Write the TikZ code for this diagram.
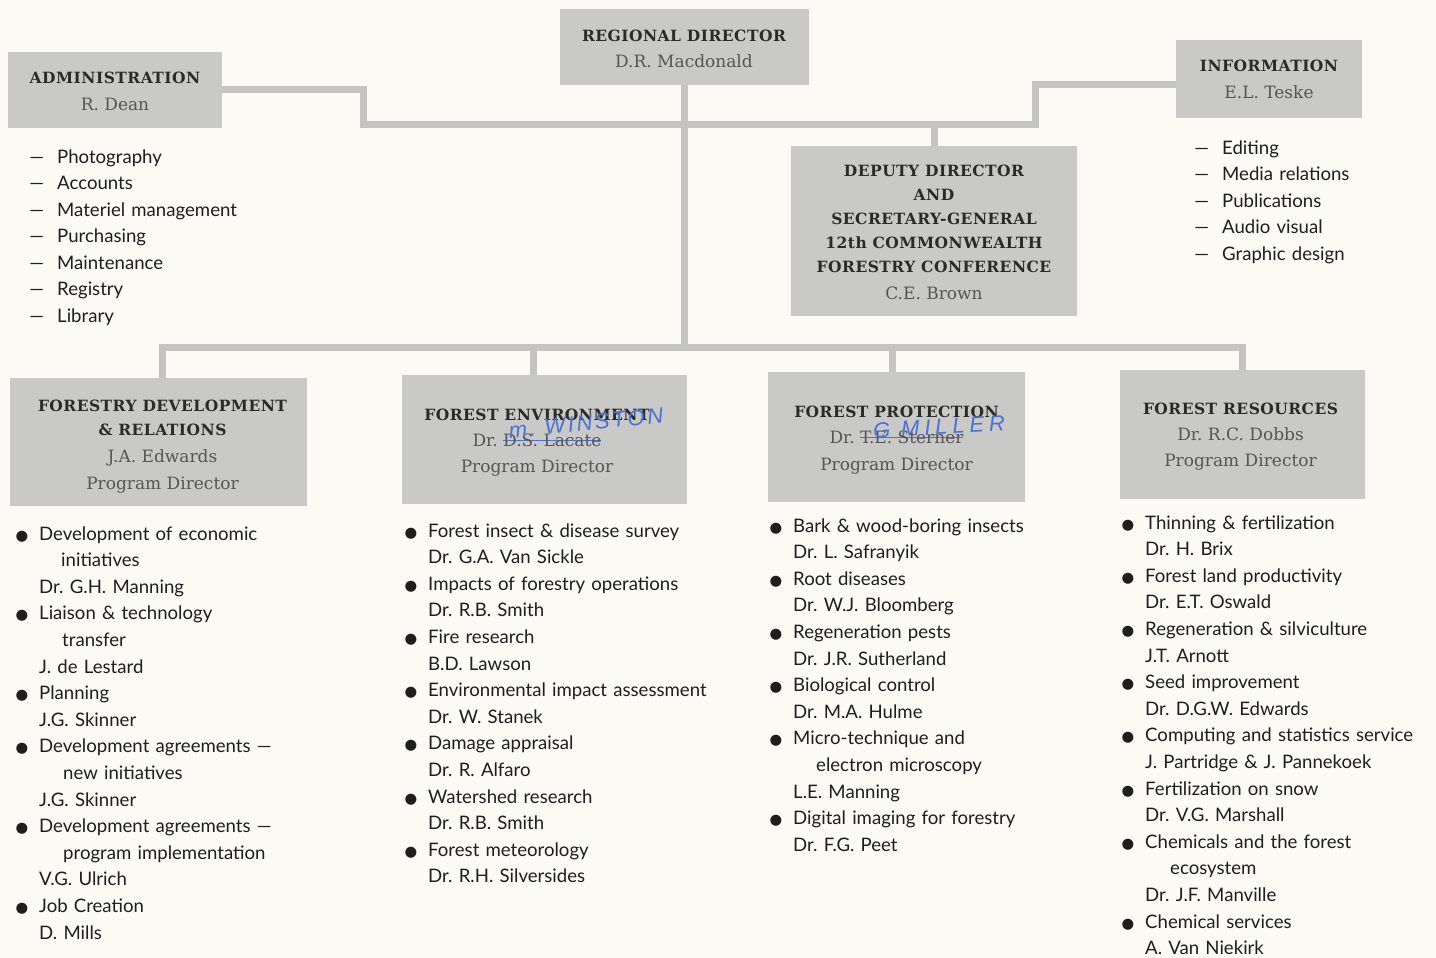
\documentclass[tikz,border=0pt]{standalone}
\usepackage{fontspec}
\setmainfont{DejaVu Serif}
\newfontfamily\hdf[LetterSpace=3]{DejaVu Serif}
\newfontfamily\listf{Lato}
\newfontfamily\symf{DejaVu Sans}
\newfontfamily\handf[LetterSpace=12]{Liberation Sans}
\frenchspacing
\definecolor{bgc}{HTML}{FBFAF5}
\definecolor{boxgray}{HTML}{C9C9C7}
\definecolor{linegray}{HTML}{C4C4C2}
\definecolor{headc}{HTML}{2A2A2A}
\definecolor{namec}{HTML}{555555}
\definecolor{listc}{HTML}{1E1E1E}
\definecolor{penblue}{HTML}{4A72D6}
\newcommand\hd[1]{{\hdf\bfseries\fontsize{15.5}{24}\selectfont\color{headc}#1}}
\newcommand\nm[1]{{\fontsize{17}{24}\selectfont\color{namec}#1}}
\newcommand\bul{\leavevmode\llap{{\symf\fontsize{14.5}{14}\selectfont ●}\hspace{11pt}}}
\newcommand\dsh{\leavevmode\llap{—\hspace{13pt}}}
\newsavebox\sbx
\newcommand\strk[1]{\sbox\sbx{#1}\rlap{\textcolor{penblue}{\rule[0.3em]{\wd\sbx}{1.3pt}}}\usebox\sbx}
\tikzset{
  box/.style={fill=boxgray, inner sep=0pt},
  boxtext/.style={inner sep=0pt, align=center, text=headc, font=\frenchspacing\fontsize{15.5}{24}\selectfont},
  conn/.style={draw=linegray, line width=7pt},
  lst/.style={anchor=base west, inner sep=0pt, text width=440pt, align=left, text=listc, font=\frenchspacing\listf\fontsize{18.6}{26.6}\selectfont},
  hand/.style={text=penblue, font=\handf\itshape\fontsize{22}{22}\selectfont, inner sep=0pt},
}
\begin{document}
\begin{tikzpicture}[x=1pt,y=-1pt]
\useasboundingbox (0,0) rectangle (1436,958);
\fill[bgc] (0,0) rectangle (1436,958);

% boxes
\node[box, minimum width=249pt, minimum height=76pt] (rd) at (684,47) {};
\node[box, minimum width=214pt, minimum height=76pt] (adm) at (115,90) {};
\node[box, minimum width=186pt, minimum height=78pt] (info) at (1269,79) {};
\node[box, minimum width=286pt, minimum height=170pt] (dep) at (934,231) {};
\node[box, minimum width=297pt, minimum height=128pt] (fd) at (158.5,442) {};
\node[box, minimum width=285pt, minimum height=129pt] (fe) at (544.5,439.5) {};
\node[box, minimum width=257pt, minimum height=130pt] (fp) at (896.5,437) {};
\node[box, minimum width=245pt, minimum height=129pt] (fr) at (1242.5,434.5) {};

% box texts
\node[boxtext] (rdt) at ([yshift=-2pt]rd.center)
  {\hd{REGIONAL DIRECTOR}\\[2pt]\nm{D.R. Macdonald}};
\node[boxtext] (admt) at ([yshift=-1pt]adm.center)
  {\hd{ADMINISTRATION}\\[3pt]\nm{R. Dean}};
\node[boxtext] (infot) at ([yshift=-0.5pt]info.center)
  {\hd{INFORMATION}\\[3pt]\nm{E.L. Teske}};
\node[boxtext] (dept) at ([yshift=-1.5pt]dep.center)
  {\hd{DEPUTY DIRECTOR}\\\hd{AND}\\\hd{SECRETARY-GENERAL}\\\hd{12th COMMONWEALTH}\\\hd{FORESTRY CONFERENCE}\\[3pt]\nm{C.E. Brown}};
\node[boxtext] (fdt) at ([xshift=4pt,yshift=-5pt]fd.center)
  {\hd{FORESTRY DEVELOPMENT}\\\hd{\& RELATIONS}\\[3pt]\nm{J.A. Edwards}\\[3pt]\nm{Program Director}};
\node[boxtext] (fet) at ([xshift=-7.5pt,yshift=-3pt]fe.center)
  {\hd{FOREST ENVIRONMENT}\\[2pt]\nm{Dr. \strk{D.S. Lacate}}\\[2pt]\nm{Program Director}};
\node[boxtext] (fpt) at ([yshift=-3pt]fp.center)
  {\hd{FOREST PROTECTION}\\[2pt]\nm{Dr. \strk{T.E. Sterner}}\\[3pt]\nm{Program Director}};
\node[boxtext] (frt) at ([xshift=-2pt,yshift=-2pt]fr.center)
  {\hd{FOREST RESOURCES}\\[2pt]\nm{Dr. R.C. Dobbs}\\[2pt]\nm{Program Director}};

% handwritten corrections
\node[hand, rotate=6] (win) at (586,423) {m. WINSTON};
\node[hand, rotate=3] (mil) at (939,427) {\addfontfeature{LetterSpace=22}G MILLER};

% connectors
\coordinate (jtop) at (685,124);
\coordinate (jbar) at (685,347);
\draw[conn] (adm.east) -| (363,124) -- (1035,124) |- ([yshift=-6pt]info.west);
\draw[conn] (rd.south) -- (rd.south |- jbar);
\draw[conn] (dep.north |- jtop) -- (dep.north);
\draw[conn] ([xshift=3.5pt]fd.north) |- (jbar) -| (fr.north);
\draw[conn] ([xshift=-11.5pt]fe.north) -- ([xshift=-11.5pt]fe.north |- jbar);
\draw[conn] ([xshift=-4.5pt]fp.north) -- ([xshift=-4.5pt]fp.north |- jbar);

% lists
\node[lst] (admlist) at (57,163) {\dsh Photography\\ \dsh Accounts\\ \dsh Materiel management\\ \dsh Purchasing\\ \dsh Maintenance\\ \dsh Registry\\ \dsh Library};
\node[lst] (infolist) at (1222,154) {\dsh Editing\\ \dsh Media relations\\ \dsh Publications\\ \dsh Audio visual\\ \dsh Graphic design};

\node[lst] (fdlist) at (39,540) {\bul Development of economic\\
\hspace*{22pt}initiatives\\
Dr. G.H. Manning\\
\bul Liaison \& technology\\
\hspace*{23pt}transfer\\
J. de Lestard\\
\bul Planning\\
J.G. Skinner\\
\bul Development agreements —\\
\hspace*{24pt}new initiatives\\
J.G. Skinner\\
\bul Development agreements —\\
\hspace*{24pt}program implementation\\
V.G. Ulrich\\
\bul Job Creation\\
D. Mills};

\node[lst] (felist) at (428,537) {\bul Forest insect \& disease survey\\
Dr. G.A. Van Sickle\\
\bul Impacts of forestry operations\\
Dr. R.B. Smith\\
\bul Fire research\\
B.D. Lawson\\
\bul Environmental impact assessment\\
Dr. W. Stanek\\
\bul Damage appraisal\\
Dr. R. Alfaro\\
\bul Watershed research\\
Dr. R.B. Smith\\
\bul Forest meteorology\\
Dr. R.H. Silversides};

\node[lst] (fplist) at (793,532) {\bul Bark \& wood-boring insects\\
Dr. L. Safranyik\\
\bul Root diseases\\
Dr. W.J. Bloomberg\\
\bul Regeneration pests\\
Dr. J.R. Sutherland\\
\bul Biological control\\
Dr. M.A. Hulme\\
\bul Micro-technique and\\
\hspace*{23pt}electron microscopy\\
L.E. Manning\\
\bul Digital imaging for forestry\\
Dr. F.G. Peet};

\node[lst] (frlist) at (1145,529) {\bul Thinning \& fertilization\\
Dr. H. Brix\\
\bul Forest land productivity\\
Dr. E.T. Oswald\\
\bul Regeneration \& silviculture\\
J.T. Arnott\\
\bul Seed improvement\\
Dr. D.G.W. Edwards\\
\bul Computing and statistics service\\
J. Partridge \& J. Pannekoek\\
\bul Fertilization on snow\\
Dr. V.G. Marshall\\
\bul Chemicals and the forest\\
\hspace*{25pt}ecosystem\\
Dr. J.F. Manville\\
\bul Chemical services\\
A. Van Niekirk};
\end{tikzpicture}
\end{document}
